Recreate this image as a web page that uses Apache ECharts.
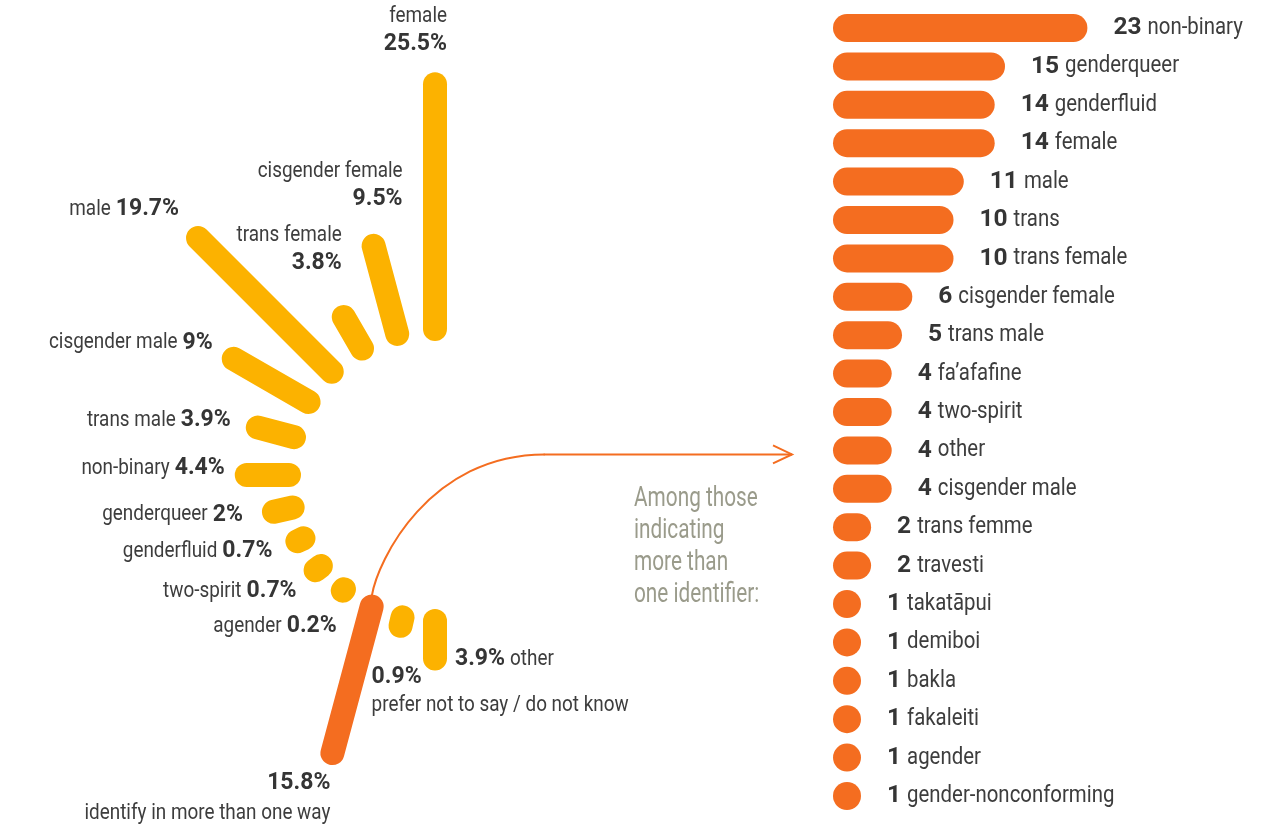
<!DOCTYPE html>
<html>
<head>
<meta charset="utf-8">
<script src="https://cdn.jsdelivr.net/npm/echarts@6/dist/echarts.min.js"></script>
<style>
  html, body { margin: 0; padding: 0; background: #fff; }
  #chart { width: 1268px; height: 828px; }
</style>
</head>
<body>
<div id="chart"></div>
<script>
// share of respondents (%), in fan order: from the top, counter-clockwise
const fanNames = ['female', 'cisgender female', 'trans female', 'male', 'cisgender male', 'trans male',
  'non-binary', 'genderqueer', 'genderfluid', 'two-spirit', 'agender',
  'identify in more than one way', 'prefer not to say / do not know', 'other']
const fanValues = [25.5, 9.5, 3.8, 19.7, 9, 3.9, 4.4, 2, 0.7, 0.7, 0.2, 15.8, 0.9, 3.9]

// among those indicating more than one identifier (counts)
const multiNames = ['non-binary', 'genderqueer', 'genderfluid', 'female', 'male', 'trans', 'trans female',
  'cisgender female', 'trans male', 'fa’afafine', 'two-spirit', 'other', 'cisgender male',
  'trans femme', 'travesti', 'takatāpui', 'demiboi', 'bakla', 'fakaleiti', 'agender', 'gender-nonconforming']
const multiCounts = [23, 15, 14, 14, 11, 10, 10, 6, 5, 4, 4, 4, 4, 2, 2, 1, 1, 1, 1, 1, 1]

const YELLOW = '#fcb200'
const ORANGE = '#f46d20'
const TEXT = '#3d3d3d'
const FONT = "Roboto, 'Liberation Sans', sans-serif"
const MULTI_INDEX = 11 // the "more than one way" spoke
const MULTI_POINTS_AT = 255 // that spoke is tilted a bit steeper than radial
const X_MIN = -1.7

// condensed look: regular text is squeezed horizontally, bold figures are not
const fanText = { size: 22.5, boldSize: 23, scale: 0.84, gap: 5 }
const listText = { size: 24, boldSize: 24.5, scale: 0.85, gap: 6 }

// label placement relative to the spoke's outer end
const fanLabelLayout = [
  { kind: 'above', dx: 12, dy: -40 },
  { kind: 'above', dx: 29, dy: -47 },
  { kind: 'above', dx: -2, dy: -54 },
  { kind: 'side', dx: -19, dy: -29 },
  { kind: 'side', dx: -21, dy: -16 },
  { kind: 'side', dx: -27, dy: -7 },
  { kind: 'side', dx: -22, dy: -7 },
  { kind: 'side', dx: -31, dy: 3 },
  { kind: 'side', dx: -25, dy: 10 },
  { kind: 'side', dx: -19, dy: 21 },
  { kind: 'side', dx: -6, dy: 36 },
  { kind: 'below', dx: -2, dy: 30 },
  { kind: 'belowLeft', dx: -29, dy: 51 },
  { kind: 'sideRight', dx: 20, dy: 1 }
]

// upper 7 spokes fill the top-left quarter, the rest the bottom-left quarter
const fanAngle = i => (i <= 6 ? 90 + i * 15 : 180 + (i - 6) * 90 / 7)

const measureCtx = document.createElement('canvas').getContext('2d')
function textWidth(text, size, bold) {
  measureCtx.font = (bold ? 'bold ' : '') + size + 'px ' + FONT
  return measureCtx.measureText(text).width
}

// one line made of regular / bold pieces, anchored left or right at x
function line(x, y, parts, align, cfg) {
  const widths = parts.map(p => p.bold
    ? textWidth(p.t, cfg.boldSize, true)
    : textWidth(p.t, cfg.size, false) * cfg.scale)
  const total = widths.reduce((s, w) => s + w, 0) + cfg.gap * (parts.length - 1)
  let cx = align === 'left' ? x : x - total
  return parts.map((p, k) => {
    const el = {
      type: 'text',
      x: cx,
      y: y,
      scaleX: p.bold ? 1 : cfg.scale,
      style: {
        text: p.t,
        fill: p.bold ? '#353535' : TEXT,
        fontSize: p.bold ? cfg.boldSize : cfg.size,
        fontWeight: p.bold ? 'bold' : 'normal',
        fontFamily: FONT,
        align: 'left',
        verticalAlign: 'middle'
      }
    }
    cx += widths[k] + cfg.gap
    return el
  })
}

function renderFan(params, api) {
  const i = params.dataIndex
  const v = api.value(0)
  const a = api.value(1)
  const p0 = api.coord([0, a])
  let p1 = api.coord([v, a])
  if (i === MULTI_INDEX) {
    const q0 = api.coord([0, MULTI_POINTS_AT])
    const q1 = api.coord([v, MULTI_POINTS_AT])
    p1 = [p0[0] + q1[0] - q0[0], p0[1] + q1[1] - q0[1]]
  }
  const lay = fanLabelLayout[i]
  const name = { t: fanNames[i] }
  const pct = { t: v + '%', bold: true }
  const x = p1[0] + lay.dx
  const y = p1[1] + lay.dy
  let children = [{
    type: 'line',
    shape: { x1: p0[0], y1: p0[1], x2: p1[0], y2: p1[1] },
    style: { stroke: i === MULTI_INDEX ? ORANGE : YELLOW, lineWidth: 24, lineCap: 'round' }
  }]
  if (lay.kind === 'above') {
    children = children.concat(line(x, y, [pct], 'right', fanText), line(x, y - 28, [name], 'right', fanText))
  } else if (lay.kind === 'below') {
    children = children.concat(line(x, y, [pct], 'right', fanText), line(x, y + 30, [name], 'right', fanText))
  } else if (lay.kind === 'belowLeft') {
    children = children.concat(line(x, y, [pct], 'left', fanText), line(x, y + 29, [name], 'left', fanText))
  } else if (lay.kind === 'side') {
    children = children.concat(line(x, y, [name, pct], 'right', fanText))
  } else {
    children = children.concat(line(x, y, [pct, name], 'left', fanText))
  }
  return { type: 'group', children: children }
}

function renderMulti(params, api) {
  const left = params.coordSys.x
  const end = api.coord([api.value(0), api.value(1)])
  const h = 28
  const w = Math.max(end[0] - left, h)
  const parts = [{ t: String(api.value(0)), bold: true }, { t: multiNames[params.dataIndex] }]
  return {
    type: 'group',
    children: [{
      type: 'rect',
      shape: { x: left, y: end[1] - h / 2, width: w, height: h, r: h / 2 },
      style: { fill: ORANGE }
    }].concat(line(left + w + 26, end[1], parts, 'left', listText))
  }
}

const chart = echarts.init(document.getElementById('chart'))
chart.setOption({
  animation: false,
  polar: { center: [435, 475], radius: [146, 434] },
  angleAxis: { type: 'value', min: 0, max: 360, startAngle: 0, clockwise: false, show: false },
  radiusAxis: { type: 'value', min: 0, max: 30, show: false },
  grid: { left: 833, top: 8.8, height: 806.4, width: 326.5 },
  xAxis: { type: 'value', min: X_MIN, max: 30, show: false },
  yAxis: { type: 'category', data: multiNames, inverse: true, show: false },
  series: [
    {
      type: 'custom',
      coordinateSystem: 'polar',
      renderItem: renderFan,
      encode: { radius: 0, angle: 1 },
      data: fanValues.map((v, i) => [v, fanAngle(i)])
    },
    {
      type: 'custom',
      coordinateSystem: 'cartesian2d',
      renderItem: renderMulti,
      encode: { x: 0, y: 1 },
      data: multiCounts.map((c, i) => [c, multiNames[i]])
    }
  ]
})

// connector from the "more than one way" spoke to the list on the right
const s = chart.convertToPixel({ seriesIndex: 0 }, [0, fanAngle(MULTI_INDEX)])
const t = chart.convertToPixel({ gridIndex: 0 }, [X_MIN, 'other'])
const sx = s[0]
const sy = s[1] - 10
const ty = t[1] + 4
const tx = t[0] - 41
const hgt = sy - ty
const connStyle = { stroke: ORANGE, lineWidth: 2, fill: null }
chart.setOption({
  graphic: [
    {
      type: 'bezierCurve',
      z: 0,
      shape: {
        x1: sx, y1: sy,
        cpx1: sx + 6, cpy1: sy - 0.26 * hgt,
        cpx2: sx + 58, cpy2: ty,
        x2: sx + 173, y2: ty
      },
      style: connStyle
    },
    {
      type: 'polyline',
      z: 0,
      shape: { points: [[sx + 172, ty], [tx, ty]] },
      style: connStyle
    },
    {
      type: 'polyline',
      z: 0,
      shape: { points: [[tx - 19, ty - 9], [tx, ty], [tx - 19, ty + 9]] },
      style: connStyle
    },
    {
      type: 'text',
      x: 634,
      y: 483,
      scaleX: 0.77,
      style: {
        text: 'Among those\nindicating\nmore than\none identifier:',
        fill: '#9a9b8b',
        fontSize: 27,
        lineHeight: 32,
        fontFamily: FONT,
        verticalAlign: 'top'
      }
    }
  ]
})
</script>
</body>
</html>
